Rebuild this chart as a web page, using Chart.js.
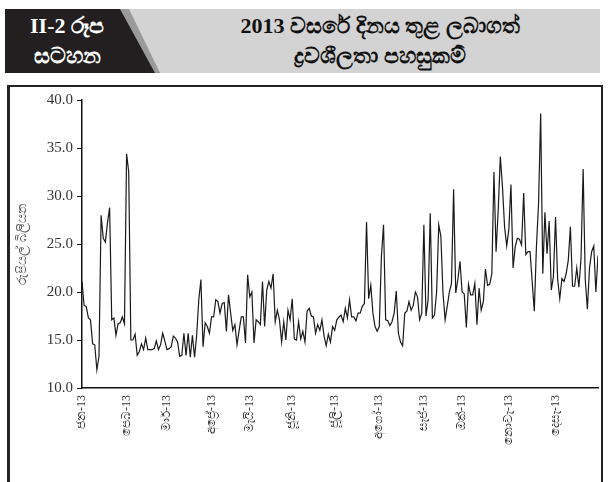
<!DOCTYPE html>
<html>
<head>
    <title>2013 liquidity facilities</title>
    <meta charset="utf-8">
    <style>
        body { margin: 0; width: 609px; height: 482px; background: #fff; position: relative; overflow: hidden; }
        #hdr-grey { position: absolute; left: 5px; top: 9px; width: 595px; height: 64px; background: #d3d3d3; }
        #hdr-shade { position: absolute; left: 5px; top: 9px; width: 155px; height: 64px; background: #9a9a9a;
            clip-path: polygon(0 0, 124px 0, 155px 64px, 0 64px); }
        #hdr-black { position: absolute; left: 5px; top: 9px; width: 150px; height: 64px; background: #231f20;
            clip-path: polygon(0 0, 115px 0, 150px 64px, 0 64px); }
        #hdr-label { position: absolute; left: 8px; top: 11px; width: 118px; color: #fff; font: bold 22px "Liberation Serif", "Noto Sans", serif; line-height: 30px; text-align: center; }
        #hdr-title { position: absolute; left: 160px; top: 11px; width: 440px; color: #111; font: bold 22px "Liberation Serif", "Noto Sans", serif; line-height: 30px; text-align: center; }
        #frame { position: absolute; left: 7px; top: 85px; width: 591px; height: 420px; border: 2px solid #222; border-left-width: 3px; }
        #chart { position: absolute; left: 0; top: 0; }
    </style>
</head>
<body>
    <div id="hdr-grey"></div>
    <div id="hdr-shade"></div>
    <div id="hdr-black"></div>
    <div id="hdr-label">II-2 රූප<br>සටහන</div>
    <div id="hdr-title">2013 වසරේ දිනය තුළ ලබාගත්<br>ද්‍රවශීලතා පහසුකම්</div>
    <div id="frame"></div>
    <canvas id="chart" width="609" height="482"></canvas>

    <script src="https://cdn.jsdelivr.net/npm/chart.js"></script>
    <script>
        // month labels and the trading-day index where each month starts
        var monthLabels = ['ජන-13', 'පෙබ-13', 'මාර්-13', 'අප්‍රේ-13', 'මැයි-13', 'ජූනි-13',
            'ජූලි-13', 'අගෝ-13', 'සැප්-13', 'ඔක්-13', 'නොවැ-13', 'දෙසැ-13'];
        var monthStart = [0, 21, 40, 61, 79, 99, 119, 140, 161, 179, 201, 223];

        // daily liquidity facilities, Rs. billion
        var dailyValues = [
            21.1, 18.6, 18.5, 17.3, 17.1, 14.6, 14.5, 11.9, 13.3, 28.0, 25.6, 25.2, 27.2, 28.8, 17.1, 17.3,
            15.5, 16.7, 16.8, 17.4, 16.7, 34.4, 32.5, 15.0, 15.0, 15.6, 13.4, 13.8, 14.6, 14.0, 15.2, 14.0,
            14.0, 14.0, 14.1, 14.9, 14.0, 14.5, 15.7, 14.9, 14.0, 14.1, 14.3, 15.4, 15.2, 14.8, 13.3, 13.4,
            15.7, 13.4, 15.7, 13.2, 15.5, 13.2, 15.5, 19.2, 21.3, 14.3, 16.8, 16.4, 15.7, 17.4, 17.4, 19.2,
            19.0, 17.8, 18.8, 18.9, 15.9, 19.7, 17.8, 16.0, 16.6, 14.5, 16.0, 17.4, 17.4, 14.7, 21.8, 19.5,
            20.0, 14.7, 17.1, 16.9, 16.6, 21.1, 16.4, 20.2, 21.1, 20.4, 21.9, 16.9, 18.1, 17.1, 14.8, 16.9,
            15.0, 18.1, 17.1, 19.3, 15.1, 15.0, 16.9, 15.1, 15.9, 14.8, 18.0, 18.3, 17.5, 17.4, 15.7, 16.6,
            16.0, 17.1, 15.4, 14.4, 15.6, 14.8, 16.4, 16.0, 17.1, 17.4, 17.6, 16.9, 18.3, 17.3, 19.2, 17.4,
            17.4, 17.0, 17.8, 17.8, 18.5, 18.8, 27.3, 19.3, 20.7, 17.8, 16.4, 15.9, 16.4, 23.7, 27.0, 17.1,
            17.0, 16.5, 16.9, 17.8, 20.1, 15.7, 14.8, 14.4, 17.8, 18.0, 19.0, 18.1, 18.6, 20.0, 19.5, 17.1,
            17.8, 27.0, 17.5, 19.2, 28.2, 17.3, 17.6, 20.0, 27.0, 25.8, 19.9, 17.1, 18.5, 20.0, 20.9, 30.7,
            19.9, 21.3, 23.2, 20.0, 19.8, 16.3, 20.8, 19.7, 19.7, 20.9, 16.6, 20.4, 18.1, 19.0, 22.4, 20.7,
            20.8, 21.9, 32.5, 24.2, 28.5, 34.1, 31.0, 26.8, 24.8, 26.5, 31.2, 22.5, 24.7, 25.6, 25.5, 24.9,
            30.3, 23.9, 24.2, 24.2, 21.1, 18.0, 24.7, 29.2, 38.6, 21.9, 28.3, 24.0, 27.4, 20.2, 21.6, 27.8,
            21.3, 19.3, 21.4, 21.1, 21.9, 23.3, 26.8, 20.6, 20.6, 22.5, 20.5, 23.5, 32.8, 21.3, 18.2, 22.5,
            24.2, 24.8, 20.0, 23.8
        ];
        var yTicks = [10, 15, 20, 25, 30, 35, 40];

        var points = dailyValues.map(function (v, i) { return { x: i, y: v }; });

        new Chart(document.getElementById('chart').getContext('2d'), {
            type: 'line',
            data: {
                datasets: [{
                    data: points,
                    borderColor: '#1a1a1a',
                    borderWidth: 1.2,
                    pointRadius: 0,
                    tension: 0,
                    fill: false
                }]
            },
            options: {
                responsive: false,
                animation: false,
                layout: { padding: { left: 10, top: 100, right: 11, bottom: 0 } },
                plugins: { legend: { display: false }, tooltip: { enabled: false } },
                scales: {
                    x: {
                        type: 'linear',
                        min: 0,
                        max: dailyValues.length - 1,
                        afterBuildTicks: function (scale) {
                            scale.ticks = monthStart.map(function (v) { return { value: v }; });
                        },
                        afterFit: function (scale) { scale.height = 94; },
                        grid: { drawOnChartArea: false, drawTicks: false },
                        border: { display: true, color: '#111', width: 1.5 },
                        ticks: {
                            autoSkip: false,
                            maxRotation: 90,
                            minRotation: 90,
                            padding: 7,
                            color: '#333',
                            font: { family: 'Liberation Serif', size: 12 },
                            callback: function (value) {
                                var k = monthStart.indexOf(value);
                                return k >= 0 ? monthLabels[k] : '';
                            }
                        }
                    },
                    y: {
                        min: 10,
                        max: 40,
                        afterBuildTicks: function (scale) {
                            scale.ticks = yTicks.map(function (v) { return { value: v }; });
                        },
                        afterFit: function (scale) { scale.width = 72; },
                        grid: { drawOnChartArea: false, drawTicks: true, tickLength: 5, color: '#111' },
                        border: { display: true, color: '#111', width: 1.5 },
                        ticks: {
                            padding: 4,
                            color: '#333',
                            font: { family: 'Liberation Serif', size: 15 },
                            callback: function (value) { return value.toFixed(1); }
                        },
                        title: {
                            display: true,
                            text: 'රුපියල් බිලියන',
                            color: '#555',
                            padding: { top: 4, bottom: 0 },
                            font: { family: 'Noto Sans', size: 13 }
                        }
                    }
                }
            }
        });
    </script>
</body>
</html>
